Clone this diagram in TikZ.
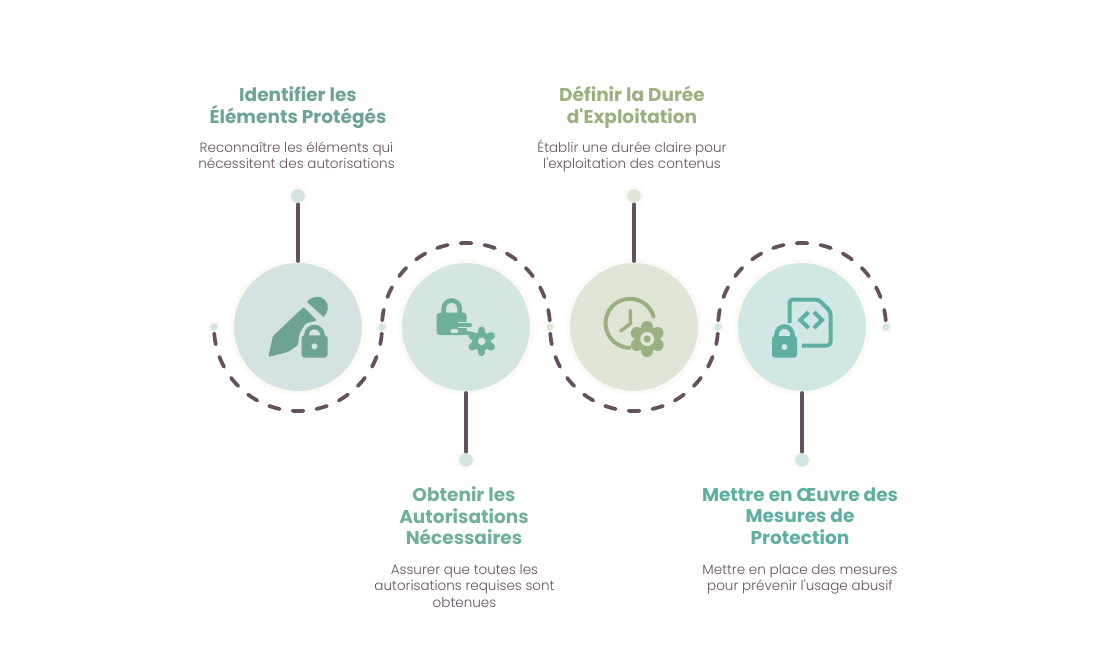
\documentclass[tikz,border=0pt]{standalone}
\usepackage{fontspec}
\newfontfamily\titlef{Poppins}
\newfontfamily\lightf{Poppins Light}
\definecolor{inkc}{HTML}{65505F}
\definecolor{bodyc}{HTML}{64505E}
\definecolor{haloc}{HTML}{FBFAF6}
\definecolor{bgA}{HTML}{D4E2E1}
\definecolor{bgB}{HTML}{D5E6E0}
\definecolor{bgC}{HTML}{DFE6D8}
\definecolor{bgD}{HTML}{D1E7E3}
\definecolor{icA}{HTML}{6DA396}
\definecolor{icB}{HTML}{6FB098}
\definecolor{icC}{HTML}{9BB07F}
\definecolor{icD}{HTML}{5FAFA0}
\tikzset{
  bigcirc/.style={circle,inner sep=0pt,minimum size=99pt,draw=haloc,line width=3pt,fill=#1},
  topdot/.style={circle,inner sep=0pt,minimum size=12.75pt,draw=haloc,line width=2.25pt,fill=#1},
  smalldot/.style={circle,inner sep=0pt,minimum size=8.25pt,draw=haloc,line width=2.25pt,fill=#1},
  stemline/.style={draw=inkc,line width=2.8pt,line cap=round,shorten >=-1.5pt,shorten <=-1.2pt},
  dashline/.style={draw=inkc,line width=2.8pt,line cap=round,dash pattern=on 8.25pt off 9.75pt,dash phase=13.125pt},
  titletext/.style={font=\titlef\fontsize{13.9}{16.2}\selectfont\bfseries,text=#1,align=center,inner sep=0pt},
  bodytext/.style={font=\lightf\fontsize{10.15}{12.2}\selectfont,text=bodyc,align=center,inner sep=0pt}
}
\newcommand{\lockicon}[7]{% cx, halfwidth, bodytop, bodybottom, shackletop, colour, keyhole colour
  \fill[#6,rounded corners=2.2pt] ({#1-#2},#3) rectangle ({#1+#2},#4);
  \draw[#6,line width=3.4pt] ({#1-8},{#3+2}) -- ({#1-8},{#5+10.5}) arc[start angle=180,end angle=360,radius=8] -- ({#1+8},{#3+2});
  \fill[#7] (#1,{#3+11}) circle[radius=3];
}
\newcommand{\gearicon}[6]{% cx, cy, tooth end radius, tooth width(pt), core radius, colour
  \fill[#6] (#1,#2) circle[radius=#5];
  \foreach \ang in {30,90,...,330}
    \draw[#6,line width=#4,line cap=round] (#1,#2) -- ++(\ang:#3);
}
\begin{document}
\begin{tikzpicture}[x=0.75pt,y=-0.75pt]
\useasboundingbox (0,0) rectangle (1100,669);
% points on the line
\node[smalldot=bgA] (p1) at (214,327) {};
\node[smalldot=bgB] (p2) at (382,327) {};
\node[smalldot=bgC] (p3) at (550,327) {};
\node[smalldot=bgD] (p4) at (718,327) {};
\node[smalldot=bgD] (p5) at (886,327) {};
% dashed semicircles
\draw[dashline] (p1.center) arc[start angle=180,end angle=0,radius=84];
\draw[dashline] (p2.center) arc[start angle=180,end angle=360,radius=84];
\draw[dashline] (p3.center) arc[start angle=180,end angle=0,radius=84];
\draw[dashline] (p4.center) arc[start angle=180,end angle=360,radius=84];
% main circles
\node[bigcirc=bgA] (c1) at (298,327) {};
\node[bigcirc=bgB] (c2) at (466,327) {};
\node[bigcirc=bgC] (c3) at (634,327) {};
\node[bigcirc=bgD] (c4) at (802,327) {};
% end dots
\node[topdot=bgA] (t1) at (298,196) {};
\node[topdot=bgB] (t2) at (466,460) {};
\node[topdot=bgC] (t3) at (634,196) {};
\node[topdot=bgD] (t4) at (802,460) {};
\draw[stemline] (t1) -- (c1);
\draw[stemline] (t2) -- (c2);
\draw[stemline] (t3) -- (c3);
\draw[stemline] (t4) -- (c4);
% icon 1: pencil + lock
\fill[icA,rounded corners=1pt] (268.2,357) -- (273,336) -- (303.7,307) -- (317,320.5) -- (305.5,323.5) -- (299.5,333.5) -- (298,345) -- (288,352) -- cycle;
\fill[icA] (307,302) .. controls (311,296) and (321,295) .. (325,300) .. controls (330,305) and (328,313) .. (323.5,317) -- cycle;
\lockicon{314.5}{13}{335.3}{357.5}{324.5}{icA}{bgA}
% icon 2: lock + gear
\lockicon{451.7}{15}{312.7}{335}{298}{icB}{icB}
\draw[bgB,line width=4.5pt] (458,325.3) -- (473,325.3);
\draw[icB,line width=3pt,line cap=round] (459,325.3) -- (470,325.3);
\fill[bgB,rounded corners=1.5pt] (450.5,329) rectangle (458.5,333);
\draw[icB,line width=3pt,line cap=round] (461,331.5) -- (476,335);
\gearicon{481.7}{341.3}{11}{5.6pt}{9.5}{icB}
\fill[bgB] (481.7,341.3) circle[radius=3.8];
% icon 3: clock + gear
\draw[icC,line width=3pt,line cap=round] (653.6,316.5) arc[start angle=344,end angle=92,radius=24.5];
\draw[icC,line width=2.6pt,line cap=round,line join=round] (630.3,310.3) -- (630.3,323.7) -- (620.7,331);
\gearicon{647.2}{339}{12}{9pt}{12.5}{icC}
\fill[bgC] (647.2,339) circle[radius=7];
\fill[icC] (647.2,339) circle[radius=3.6];
% icon 4: document + lock
\draw[icD,line width=3pt,line join=round,rounded corners=2.5pt] (789.5,323) -- (789.5,299.5) -- (818.5,299.5) -- (830.5,311.5) -- (830.5,345.5) -- (802,345.5);
\draw[icD,line width=3pt] (808.5,312) -- (800.5,320) -- (808.5,328);
\draw[icD,line width=3pt] (814,312) -- (822,320) -- (814,328);
\lockicon{784.5}{12.5}{336}{357.5}{324}{icD}{bgD}
% texts
\node[titletext=icA] (h1) at (298,107.5) {Identifier les\\Éléments Protégés};
\node[bodytext] (b1) at (296.5,155.5) {Reconnaître les éléments qui\\nécessitent des autorisations};
\node[titletext=icB] (h2) at (464,516) {Obtenir les\\Autorisations\\Nécessaires};
\node[bodytext] (b2) at (464.5,586) {Assurer que toutes les\\autorisations requises sont\\obtenues};
\node[titletext=icC] (h3) at (632,107.5) {Définir la Durée\\d'Exploitation};
\node[bodytext] (b3) at (632,156) {Établir une durée claire pour\\l'exploitation des contenus};
\node[titletext=icD] (h4) at (800,516) {Mettre en Œuvre des\\Mesures de\\Protection};
\node[bodytext] (b4) at (800,579) {Mettre en place des mesures\\pour prévenir l'usage abusif};
\end{tikzpicture}
\end{document}
